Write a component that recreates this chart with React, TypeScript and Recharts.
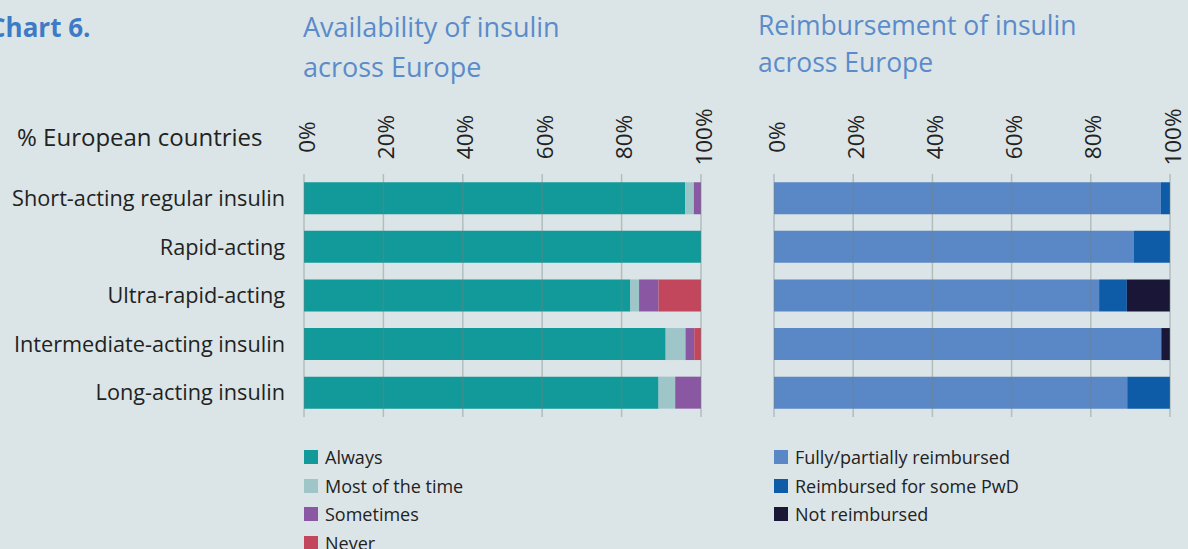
import { Bar, BarChart, ReferenceLine, XAxis, YAxis } from 'recharts';

const categories = [
	'Short-acting regular insulin',
	'Rapid-acting',
	'Ultra-rapid-acting',
	'Intermediate-acting insulin',
	'Long-acting insulin'
];

// availability, % of European countries
const always = [96, 100, 82.2, 91.1, 89.3];
const mostOfTheTime = [2.2, 0, 2.2, 5, 4.2];
const sometimes = [1.8, 0, 4.9, 2.2, 6.5];
const never = [0, 0, 10.7, 1.7, 0];

// reimbursement, % of European countries
const fullyReimbursed = [97.7, 90.9, 82.1, 97.8, 89.2];
const someReimbursed = [2.3, 9.1, 7, 0, 10.8];
const notReimbursed = [0, 0, 10.9, 2.2, 0];

const percentTicks = [0, 20, 40, 60, 80, 100];

const availSeries = [
	{ key: 'always', name: 'Always', color: '#12999a' },
	{ key: 'most', name: 'Most of the time', color: '#9ec5c8' },
	{ key: 'sometimes', name: 'Sometimes', color: '#8a58a2' },
	{ key: 'never', name: 'Never', color: '#c2475c' }
];

const reimbSeries = [
	{ key: 'fully', name: 'Fully/partially reimbursed', color: '#5a87c5' },
	{ key: 'some', name: 'Reimbursed for some PwD', color: '#0e5ba8' },
	{ key: 'not', name: 'Not reimbursed', color: '#1a1637' }
];

const availData = categories.map((name, i) => ({
	name,
	always: always[i],
	most: mostOfTheTime[i],
	sometimes: sometimes[i],
	never: never[i]
}));

const reimbData = categories.map((name, i) => ({
	name,
	fully: fullyReimbursed[i],
	some: someReimbursed[i],
	not: notReimbursed[i]
}));

const FONT = '"Open Sans", "Noto Sans", sans-serif';
const BG = '#dbe5e7';
const TITLE_BLUE = '#5b8bca';

function PercentTick(props: any) {
	const { x, payload } = props;
	return (
		<text
			x={x}
			y={37}
			dy={2}
			transform={`rotate(-90 ${x} 37)`}
			textAnchor="middle"
			dominantBaseline="central"
			fontFamily={FONT}
			fontSize={22.5}
			fill="#222"
		>
			{payload.value}%
		</text>
	);
}

function Legend({ items }: { items: { name: string; color: string }[] }) {
	return (
		<div>
			{items.map((s) => (
				<div
					key={s.name}
					style={{ display: 'flex', alignItems: 'center', height: 28.5 }}
				>
					<span
						style={{
							width: 14,
							height: 14,
							background: s.color,
							marginRight: 7,
							display: 'inline-block'
						}}
					/>
					<span style={{ fontSize: 18, color: '#222' }}>{s.name}</span>
				</div>
			))}
		</div>
	);
}

const gridLines = percentTicks.map((t) => (
	<ReferenceLine
		key={t}
		x={t}
		stroke="#76817f"
		strokeOpacity={0.4}
		strokeWidth={1.5}
	/>
));

export default function App() {
	return (
		<div
			style={{
				position: 'absolute',
				left: 0,
				top: 0,
				width: 1188,
				height: 549,
				overflow: 'hidden',
				background: BG,
				fontFamily: FONT
			}}
		>
			<div
				style={{
					position: 'absolute',
					left: -11,
					top: 7,
					fontSize: 26,
					fontWeight: 700,
					lineHeight: '40px',
					color: '#3d7bc6'
				}}
			>
				Chart 6.
			</div>
			<div
				style={{
					position: 'absolute',
					left: 303,
					top: 7,
					fontSize: 27,
					lineHeight: '40px',
					color: TITLE_BLUE
				}}
			>
				Availability of insulin
				<br />
				across Europe
			</div>
			<div
				style={{
					position: 'absolute',
					left: 758,
					top: 7,
					fontSize: 26.5,
					lineHeight: '37px',
					color: TITLE_BLUE
				}}
			>
				Reimbursement of insulin
				<br />
				across Europe
			</div>
			<div
				style={{
					position: 'absolute',
					left: 17,
					top: 120,
					fontSize: 24,
					lineHeight: '34px',
					color: '#222'
				}}
			>
				% European countries
			</div>

			<div style={{ position: 'absolute', left: 0, top: 100 }}>
				<BarChart
					width={720}
					height={320}
					data={availData}
					layout="vertical"
					barCategoryGap="17%"
					margin={{ top: 0, right: 19, bottom: 3, left: 0 }}
				>
					<XAxis
						type="number"
						orientation="top"
						domain={[0, 100]}
						ticks={percentTicks}
						height={74}
						axisLine={false}
						tickLine={false}
						tick={<PercentTick />}
					/>
					<YAxis
						type="category"
						dataKey="name"
						width={304}
						axisLine={false}
						tickLine={false}
						tickSize={0}
						tickMargin={19}
						tick={{ fontFamily: FONT, fontSize: 21.7, fill: '#222' }}
					/>
					{availSeries.map((s) => (
						<Bar
							key={s.key}
							dataKey={s.key}
							name={s.name}
							stackId="a"
							fill={s.color}
							isAnimationActive={false}
						/>
					))}
					{gridLines}
				</BarChart>
			</div>

			<div style={{ position: 'absolute', left: 754, top: 100 }}>
				<BarChart
					width={434}
					height={320}
					data={reimbData}
					layout="vertical"
					barCategoryGap="17%"
					margin={{ top: 0, right: 18, bottom: 3, left: 20 }}
				>
					<XAxis
						type="number"
						orientation="top"
						domain={[0, 100]}
						ticks={percentTicks}
						height={74}
						axisLine={false}
						tickLine={false}
						tick={<PercentTick />}
					/>
					<YAxis type="category" dataKey="name" hide />
					{reimbSeries.map((s) => (
						<Bar
							key={s.key}
							dataKey={s.key}
							name={s.name}
							stackId="b"
							fill={s.color}
							isAnimationActive={false}
						/>
					))}
					{gridLines}
				</BarChart>
			</div>

			<div style={{ position: 'absolute', left: 304, top: 443 }}>
				<Legend items={availSeries} />
			</div>
			<div style={{ position: 'absolute', left: 774, top: 443 }}>
				<Legend items={reimbSeries} />
			</div>
		</div>
	);
}
